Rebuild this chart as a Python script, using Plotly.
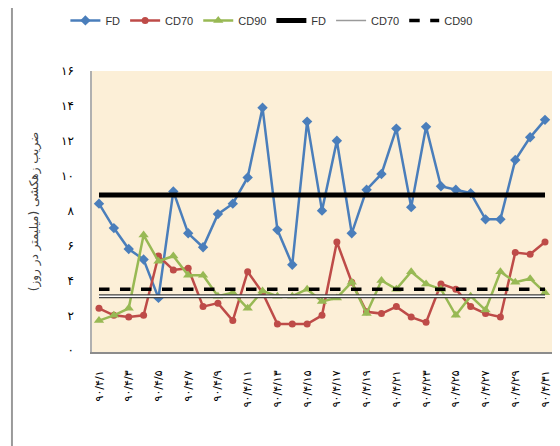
import plotly.graph_objects as go

fa = str.maketrans("0123456789", "۰۱۲۳۴۵۶۷۸۹")

days = list(range(1, 32))
dates = [f"90/4/{d}".translate(fa) for d in days]
tick_dates = dates[::2]

fd = [8.4, 7.0, 5.8, 5.2, 3.0, 9.1, 6.7, 5.9, 7.8, 8.4,
      9.9, 13.9, 6.9, 4.9, 13.1, 8.0, 12.0, 6.7, 9.2, 10.1,
      12.7, 8.2, 12.8, 9.4, 9.2, 9.0, 7.5, 7.5, 10.9, 12.2, 13.2]
cd70 = [2.4, 2.0, 1.9, 2.0, 5.4, 4.6, 4.7, 2.5, 2.7, 1.7,
        4.5, 3.3, 1.5, 1.5, 1.5, 2.0, 6.2, 3.9, 2.2, 2.1,
        2.5, 1.9, 1.6, 3.8, 3.5, 2.5, 2.1, 1.9, 5.6, 5.5, 6.2]
cd90 = [1.7, 2.0, 2.4, 6.6, 5.1, 5.4, 4.3, 4.3, 3.1, 3.3,
        2.4, 3.4, 3.1, 3.1, 3.5, 2.8, 3.0, 3.9, 2.1, 4.0,
        3.5, 4.5, 3.8, 3.5, 2.0, 3.1, 2.3, 4.5, 3.9, 4.1, 3.3]

fd_mean = 8.9
cd70_mean = 3.1
cd90_mean = 3.5

y_ticks = list(range(0, 17, 2))
y_ticktext = [str(v).translate(fa) for v in y_ticks]
y_title = "ضریب زهکشی (میلیمتر در روز)"

FONT = "DejaVu Sans"

fig = go.Figure()

fig.add_trace(go.Scatter(x=dates, y=fd, name="FD", mode="lines+markers",
                         line=dict(color="#4a7ebb", width=2.5),
                         marker=dict(symbol="diamond", size=8, color="#4a7ebb")))
fig.add_trace(go.Scatter(x=dates, y=cd70, name="CD70", mode="lines+markers",
                         line=dict(color="#be4b48", width=2.5),
                         marker=dict(symbol="circle", size=7, color="#be4b48")))
fig.add_trace(go.Scatter(x=dates, y=cd90, name="CD90", mode="lines+markers",
                         line=dict(color="#98b954", width=2.5),
                         marker=dict(symbol="triangle-up", size=9, color="#98b954")))

fig.add_trace(go.Scatter(x=dates, y=[fd_mean] * len(dates), name="FD", mode="lines",
                         line=dict(color="black", width=5)))
# CD70: double line (dark edges, white centre); legend via a thin grey sample
fig.add_trace(go.Scatter(x=dates, y=[cd70_mean] * len(dates), mode="lines",
                         line=dict(color="#404040", width=4), showlegend=False,
                         legendgroup="cd70m"))
fig.add_trace(go.Scatter(x=dates, y=[cd70_mean] * len(dates), mode="lines",
                         line=dict(color="white", width=1.5), showlegend=False,
                         legendgroup="cd70m"))
fig.add_trace(go.Scatter(x=[None], y=[None], name="CD70", mode="lines",
                         line=dict(color="#9a9a9a", width=1.5), legendgroup="cd70m"))
fig.add_trace(go.Scatter(x=dates, y=[cd90_mean] * len(dates), name="CD90", mode="lines",
                         line=dict(color="black", width=3.5, dash="dash")))

fig.update_layout(
    width=552, height=438,
    margin=dict(l=84, r=8, t=63, b=94, autoexpand=False),
    paper_bgcolor="white",
    plot_bgcolor="#fcefd7",
    font=dict(family=FONT, size=10, color="black"),
    showlegend=True,
    legend=dict(orientation="h", x=0.39, xanchor="center", y=1.18, yanchor="middle",
                font=dict(family="Liberation Sans Narrow, Liberation Sans", size=11, color="#333"),
                itemwidth=30, tracegroupgap=0, bgcolor="rgba(0,0,0,0)"),
    xaxis=dict(type="category", range=[-0.47, 30.47], tickmode="array",
               tickvals=tick_dates, ticktext=tick_dates, tickangle=-90,
               showgrid=False, zeroline=False, showline=True, linecolor="#8c8c8c",
               linewidth=2, ticks="", ticklabelstandoff=12, automargin=False,
               tickfont=dict(family=FONT, size=11, color="black")),
    yaxis=dict(range=[-0.1, 16.0], tickmode="array", tickvals=y_ticks, ticktext=y_ticktext,
               showgrid=False, zeroline=False, showline=True, linecolor="#b0b0b0",
               linewidth=1.5, ticks="", ticklabelstandoff=14, automargin=False,
               tickfont=dict(family=FONT, size=12, color="black"),
               title=dict(text=y_title, standoff=20,
                          font=dict(family=FONT, size=12, color="#404040"))),
)

fig.add_shape(type="line", xref="paper", yref="paper",
              x0=-0.174, x1=-0.174, y0=-0.335, y1=1.25,
              line=dict(color="#9a9a9a", width=2))

fig.write_html("out.html")
